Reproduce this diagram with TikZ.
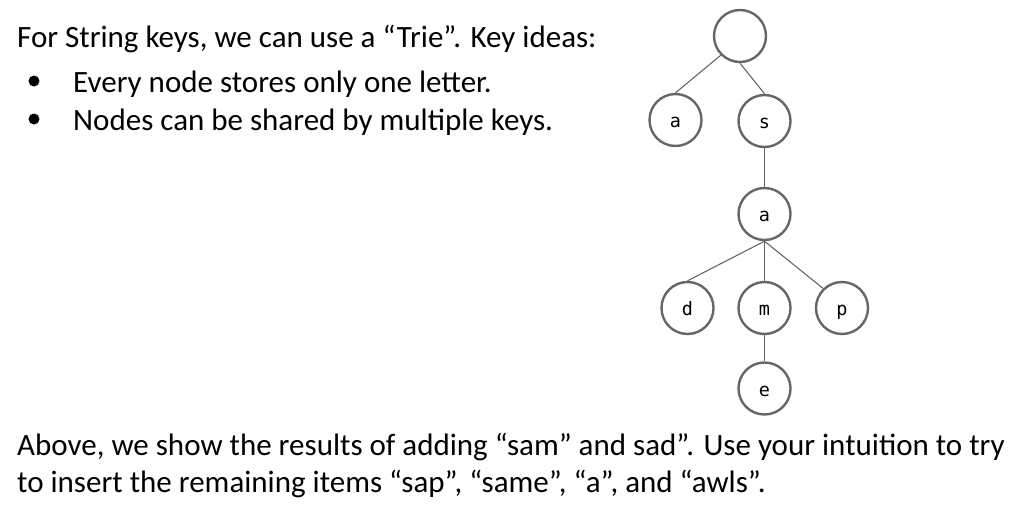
\documentclass[tikz,border=0pt]{standalone}
\usepackage{fontspec}
\setmainfont{Carlito}
\newfontfamily\nodefont{DejaVu Sans Mono}
\definecolor{edgegray}{HTML}{666666}
\tikzset{
  tnode/.style={circle, draw=edgegray, line width=2.4pt, minimum size=52pt, inner sep=0pt, text height=15.4pt, text depth=0pt, font=\nodefont\fontsize{18.5}{18.5}\selectfont},
  tedge/.style={draw=edgegray, line width=1.1pt},
  txt/.style={anchor=base west, inner sep=0pt, font=\fontsize{31}{37}\selectfont},
  bullet/.style={circle, fill=black, minimum size=11pt, inner sep=0pt}
}
\begin{document}
\begin{tikzpicture}[x=1pt,y=-1pt]
\useasboundingbox (0,0) rectangle (1034,520);
\node[txt] (l1) at (17,47) {For String keys, we can use a “Trie”. Key ideas:};
\node[bullet] (b1) at (34,81) {};
\node[txt] (l2) at (73,92) {Every node stores only one letter.};
\node[bullet] (b2) at (34,119) {};
\node[txt] (l3) at (73,130) {Nodes can be shared by multiple keys.};
\node[txt] (l4) at (17,455) {Above, we show the results of adding “sam” and sad”. Use your intuition to try};
\node[txt] (l5) at (17,492) {to insert the remaining items “sap”, “same”, “a”, and “awls”.};

\node[tnode] (root) at (740,36) {};
\node[tnode] (a) at (675.5,120) {a};
\node[tnode] (s) at (764.5,121) {s};
\node[tnode] (sa) at (764.5,214) {a};
\node[tnode] (d) at (687.5,308) {d};
\node[tnode] (m) at (764.5,308) {m};
\node[tnode] (p) at (842,308) {p};
\node[tnode] (e) at (764.5,388.5) {e};

\draw[tedge] (root.225) -- (a.north);
\draw[tedge] (root.south) -- (s.north);
\draw[tedge] (s.south) -- (sa.north);
\draw[tedge] (sa.south) -- (d.north);
\draw[tedge] (sa.south) -- (m.north);
\draw[tedge] (sa.south) -- (p.134);
\draw[tedge] (m.south) -- (e.north);
\end{tikzpicture}
\end{document}
